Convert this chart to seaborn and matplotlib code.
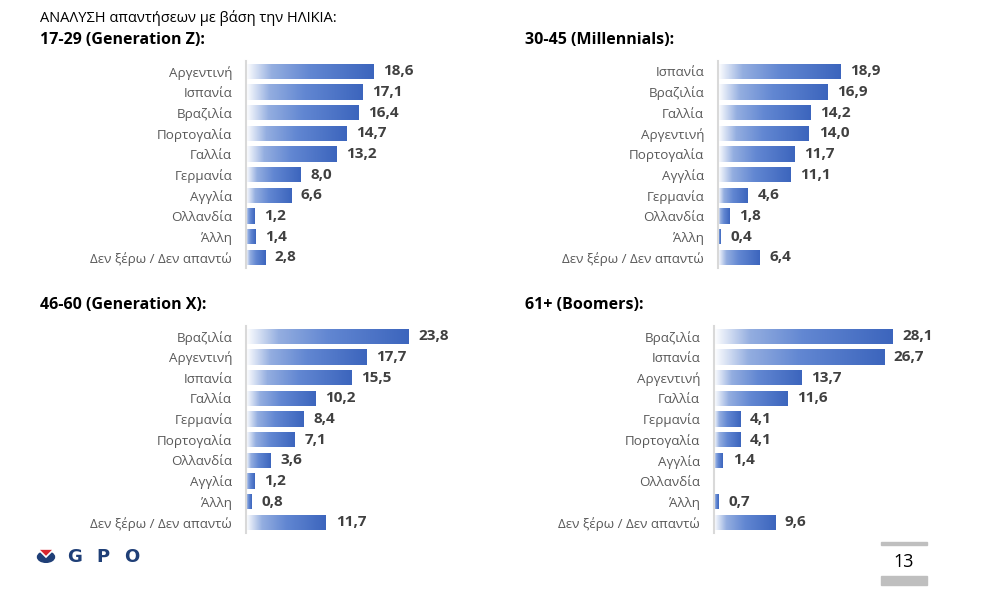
import numpy as np
import pandas as pd
import matplotlib
matplotlib.use("Agg")
import matplotlib.pyplot as plt
from matplotlib.colors import LinearSegmentedColormap
from matplotlib.patches import Rectangle, Circle, Polygon
import seaborn as sns

sns.set_theme(style="white")
plt.rcParams['font.family'] = ['Open Sans', 'DejaVu Sans']

main_title = "ΑΝΑΛΥΣΗ απαντήσεων με βάση την ΗΛΙΚΙΑ:"

title_1 = "17-29 (Generation Z):"
cats_1 = ["Αργεντινή", "Ισπανία", "Βραζιλία", "Πορτογαλία", "Γαλλία", "Γερμανία",
          "Αγγλία", "Ολλανδία", "Άλλη", "Δεν ξέρω / Δεν απαντώ"]
vals_1 = [18.6, 17.1, 16.4, 14.7, 13.2, 8.0, 6.6, 1.2, 1.4, 2.8]

title_2 = "30-45 (Millennials):"
cats_2 = ["Ισπανία", "Βραζιλία", "Γαλλία", "Αργεντινή", "Πορτογαλία", "Αγγλία",
          "Γερμανία", "Ολλανδία", "Άλλη", "Δεν ξέρω / Δεν απαντώ"]
vals_2 = [18.9, 16.9, 14.2, 14.0, 11.7, 11.1, 4.6, 1.8, 0.4, 6.4]

title_3 = "46-60 (Generation X):"
cats_3 = ["Βραζιλία", "Αργεντινή", "Ισπανία", "Γαλλία", "Γερμανία", "Πορτογαλία",
          "Ολλανδία", "Αγγλία", "Άλλη", "Δεν ξέρω / Δεν απαντώ"]
vals_3 = [23.8, 17.7, 15.5, 10.2, 8.4, 7.1, 3.6, 1.2, 0.8, 11.7]

title_4 = "61+ (Boomers):"
cats_4 = ["Βραζιλία", "Ισπανία", "Αργεντινή", "Γαλλία", "Γερμανία", "Πορτογαλία",
          "Αγγλία", "Ολλανδία", "Άλλη", "Δεν ξέρω / Δεν απαντώ"]
vals_4 = [28.1, 26.7, 13.7, 11.6, 4.1, 4.1, 1.4, np.nan, 0.7, 9.6]

logo_letters = ["G", "P", "O"]
page_number = "13"

W, H = 983, 616
fig = plt.figure(figsize=(W / 100, H / 100), dpi=100)
fig.patch.set_facecolor("white")

cmap = LinearSegmentedColormap.from_list(
    "grad", [(0.0, "#ffffff"), (0.2, "#94aee0"), (0.5, "#6287d2"), (1.0, "#3c65bd")])
grad = np.linspace(0, 1, 256).reshape(1, -1)


def fx(px):
    return px / W


def fy(py):
    return 1 - py / H


def panel(left_px, top_px, cats, vals, title, xmax, title_x):
    ax_w, ax_h = 200, 206.7
    ax = fig.add_axes([left_px / W, (H - top_px - ax_h) / H, ax_w / W, ax_h / H])
    df = pd.DataFrame({"country": cats, "value": vals}).dropna()
    sns.barplot(data=df, x="value", y="country", order=cats, orient="h",
                color="#4472C4", width=0.74, ax=ax)
    ylim = ax.get_ylim()
    for p in list(ax.patches):
        w = p.get_width()
        if not np.isfinite(w) or w <= 0:
            continue
        x0, y0 = p.get_x(), p.get_y()
        h = p.get_height()
        im = ax.imshow(grad, cmap=cmap, aspect="auto",
                       extent=[x0, x0 + w, y0 + h, y0], zorder=2,
                       interpolation="bilinear")
        im.set_clip_path(p)
        p.set_facecolor("none")
        p.set_edgecolor("none")
    for i, (c, v) in enumerate(zip(cats, vals)):
        if np.isfinite(v):
            ax.annotate(f"{v:.1f}".replace(".", ","), xy=(v, i), xytext=(7, 0),
                        textcoords="offset points", va="center", ha="left",
                        fontsize=11, fontweight="bold", color="#404040")
    ax.set_xlim(0, xmax)
    ax.set_ylim(ylim)
    ax.set_xlabel("")
    ax.set_ylabel("")
    ax.set_xticks([])
    ax.tick_params(axis="y", length=0, pad=10, labelsize=9.6, labelcolor="#595959")
    for s in ["top", "right", "bottom"]:
        ax.spines[s].set_visible(False)
    ax.spines["left"].set_color("#d9d9d9")
    ax.spines["left"].set_linewidth(1.5)
    ax.set_facecolor("none")
    fig.text(fx(title_x), fy(top_px - 21), title, fontsize=11.5,
             fontweight="bold", color="black", va="center", ha="left")
    return ax


panel(246, 61, cats_1, vals_1, title_1, 200 / 6.83, 40)
panel(718, 61, cats_2, vals_2, title_2, 200 / 6.5, 525)
panel(246, 326, cats_3, vals_3, title_3, 200 / 6.83, 40)
panel(714, 326, cats_4, vals_4, title_4, 200 / 6.37, 525)

fig.text(fx(40), fy(18), main_title, fontsize=10.5, color="black",
         va="center", ha="left")

# Logo (decorative mark + text)
fig.patches.append(Circle((fx(46), fy(557)), 8.5 / W, transform=fig.transFigure,
                          color="#1f3f77"))
fig.patches.append(Polygon([(fx(38), fy(549)), (fx(54), fy(549)), (fx(46), fy(557))],
                           closed=True, transform=fig.transFigure,
                           facecolor="#d7262e", edgecolor="white", linewidth=1.2))
for letter, cx in zip(logo_letters, [75, 103, 132]):
    fig.text(fx(cx), fy(557.5), letter, fontsize=13, fontweight="heavy",
             color="#1f3f77", va="center", ha="center", family="DejaVu Sans")

# Page number
fig.patches.append(Rectangle((fx(881), fy(545)), 46 / W, 3 / H,
                             transform=fig.transFigure, color="#bfbfbf"))
fig.patches.append(Rectangle((fx(881), fy(585)), 46 / W, 9 / H,
                             transform=fig.transFigure, color="#bfbfbf"))
fig.text(fx(904), fy(562), page_number, fontsize=13, color="black",
         va="center", ha="center")

fig.savefig("out.png", dpi=100)
